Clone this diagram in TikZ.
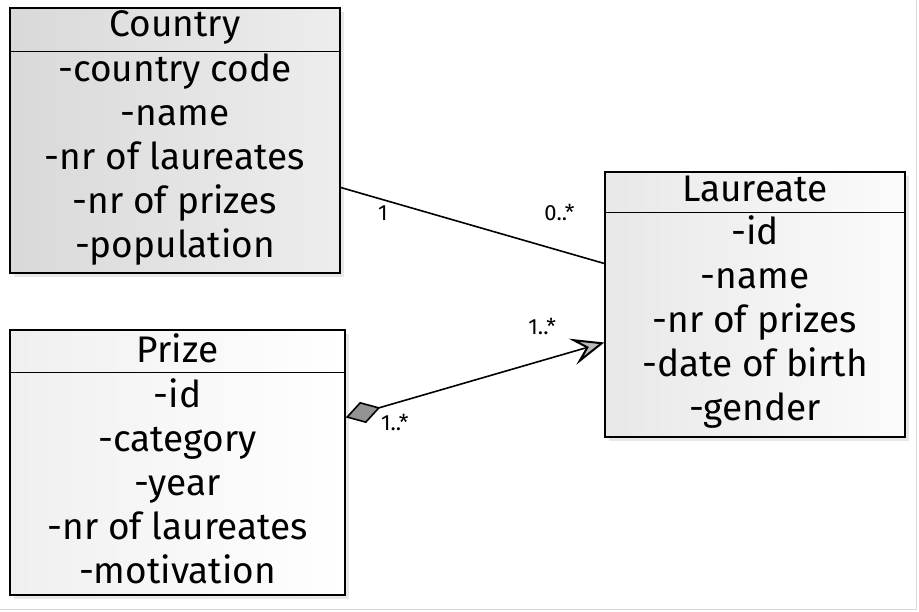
\documentclass[tikz,border=0pt]{standalone}
\usepackage{fontspec}
\setmainfont{Fira Sans}
\usetikzlibrary{positioning, arrows.meta, shadows, calc}

\begin{document}
\begin{tikzpicture}[
         x=1pt, y=-1pt,
         classbox/.style={draw, line width=1.4pt, minimum height=265pt, inner sep=0pt,
            drop shadow={opacity=0.18, shadow xshift=4pt, shadow yshift=-4pt}},
         classname/.style={font=\fontsize{37}{37}\selectfont, inner sep=0pt},
         attributes/.style={font=\fontsize{37}{44}\selectfont, align=center, inner sep=0pt},
         divider/.style={line width=1.4pt},
         link/.style={line width=1.6pt},
         mult/.style={font=\fontsize{22}{22}\selectfont, inner sep=1pt}
      ]
         \useasboundingbox (0,0) rectangle (919,612);
         \draw[gray!30, line width=1pt] (916,0) -- (916,609) -- (0,609);

         % Class boxes
         \node[classbox, minimum width=330pt, left color=gray!30, right color=gray!14] (country) at (175,140.5) {};
         \node[classbox, minimum width=300pt, left color=gray!18, right color=gray!3] (laureate) at (755,304.5) {};
         \node[classbox, minimum width=335pt, left color=gray!12, right color=white] (prize) at (177.5,462.5) {};

         % Class names and dividers
         \node[classname] (countryname) at ([yshift=-20pt]country.north) {Country};
         \draw[divider] ([yshift=-44pt]country.north west) -- ([yshift=-44pt]country.north east);
         \node[classname] (laureatename) at ([yshift=-18pt]laureate.north) {Laureate};
         \draw[divider] ([yshift=-41pt]laureate.north west) -- ([yshift=-41pt]laureate.north east);
         \node[classname] (prizename) at ([yshift=-19pt]prize.north) {Prize};
         \draw[divider] ([yshift=-43pt]prize.north west) -- ([yshift=-43pt]prize.north east);

         % Attributes
         \node[attributes] (countryattr) at ([yshift=-19pt]country.center)
            {-country code\\-name\\-nr of laureates\\-nr of prizes\\-population};
         \node[attributes] (laureateattr) at ([yshift=-18pt]laureate.center)
            {-id\\-name\\-nr of prizes\\-date of birth\\-gender};
         \node[attributes] (prizeattr) at ([yshift=-19pt]prize.center)
            {-id\\-category\\-year\\-nr of laureates\\-motivation};

         % Associations with multiplicities
         \draw[link] ([yshift=-47pt]country.east)
            -- node[mult, pos=0.16, below=4pt] (countrymult) {1}
               node[mult, pos=0.83, above=28pt] (laureatemult) {0..*}
            ([yshift=41pt]laureate.west);
         \draw[link, {Diamond[length=36pt, width=22pt, fill=gray!85]}-{Stealth[length=33pt, width=27pt, inset=14pt, line width=2pt, fill=gray!55]}]
            ([yshift=45pt]prize.east)
            -- node[mult, pos=0.19, below=9pt] (prizemult) {1..*}
               node[mult, pos=0.76, above=24pt] (winnermult) {1..*}
            ([yshift=-38pt]laureate.west);
      \end{tikzpicture}
\end{document}
